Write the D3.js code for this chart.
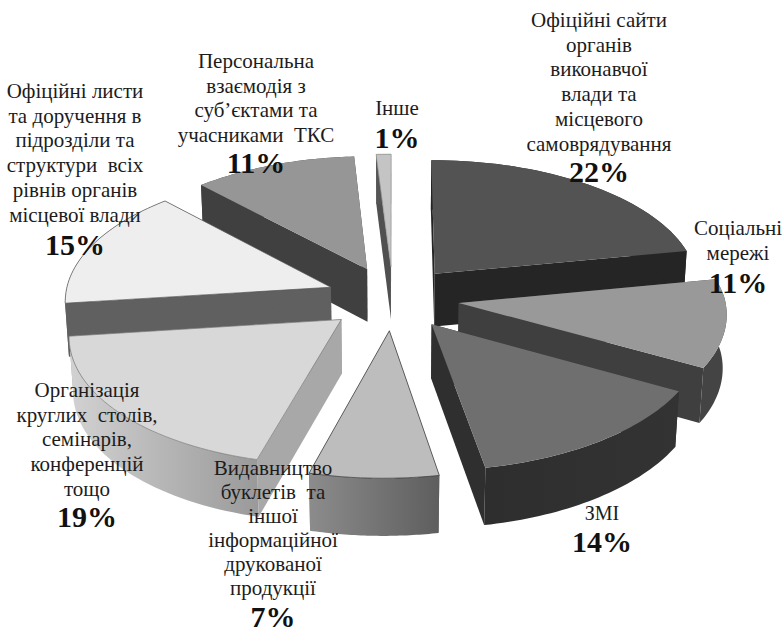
<!DOCTYPE html>
<html>
<head>
<meta charset="utf-8">
<script src="https://cdn.jsdelivr.net/npm/d3@7"></script>
<style>
    html, body { margin: 0; padding: 0; background: #fff; }
    text { font-family: "Liberation Serif", serif; fill: #1c1c1c; white-space: pre; }
</style>
</head>
<body>
<div id="chart"></div>
<script>
// chart data, clockwise from 12 o'clock
const values = [22, 11, 14, 7, 19, 15, 11, 1];
const categories = [
    ["Офіційні сайти", "органів", "виконавчої", "влади та", "місцевого", "самоврядування"],
    ["Соціальні", "мережі"],
    ["ЗМІ"],
    ["Видавництво", "буклетів  та", "іншої", "інформаційної", "друкованої", "продукції"],
    ["Організація", "круглих  столів,", "семінарів,", "конференцій", "тощо"],
    ["Офіційні листи", "та доручення в", "підрозділи та", "структури  всіх", "рівнів органів", "місцевої влади"],
    ["Персональна", "взаємодія з", "суб’єктами та", "учасниками  ТКС"],
    ["Інше"]
];

// label layout: centre x, first baseline y, baseline y of the percent, line height
const labelLayout = [
    [599, 27, 182, 24.7], [738, 235, 293, 24.7], [602, 520, 552, 24.7], [273, 475, 627, 24],
    [87, 397, 527, 24.7], [75, 98, 255, 24.7], [256, 68, 173, 24.7], [397, 115, 148, 24.7]
];

// colours: top face, radial faces, outer wall (gradient if 2 colours), top outline
const styles = [
    {top: "#535353", side: "#252525", wall: ["#252525"], line: "none"},
    {top: "#999999", side: "#3f3f3f", wall: ["#444444"], line: "none"},
    {top: "#6f6f6f", side: "#2f2f2f", wall: ["#2e2e2e", "#333333"], line: "none"},
    {top: "#bdbdbd", side: "#777777", wall: ["#8c8c8c", "#5e5e5e"], line: "#333"},
    {top: "#d8d8d8", side: "#a8a8a8", wall: ["#d2d2d2", "#9a9a9a"], line: "#777"},
    {top: "#eeeeee", side: "#606060", wall: ["#606060"], line: "#555"},
    {top: "#969696", side: "#404040", wall: ["#404040"], line: "none"},
    {top: "#c4c4c4", side: "#505050", wall: ["#555555"], line: "#999"}
];

// back to front
const drawOrder = [7, 0, 6, 1, 2, 5, 3, 4];

const width = 784, height = 634;
const cx = 393, cy = 298;          // pie centre on screen
const radiusX = 266, radiusY = 128, depth = 54;
const explode = 0.25;
const persp = 0.09, perspZ = 0.012;

// x,y in pie plane (radius = 1, y to the back), z = 0 top .. 1 bottom
function project(x, y, z) {
    let w = 1 + persp * y + perspZ * z;
    return [
        cx + radiusX * x / w + 6 * Math.min(y, 0),
        cy - radiusY * y / w + depth * z / w
    ];
}

let svg = d3.select("#chart")
    .append("svg")
    .attr("width", width)
    .attr("height", height);

let defs = svg.append("defs");
let line = d3.line();

let arcs = d3.pie().sort(null)(values);

function sliceGeometry(d) {
    let mid = (d.startAngle + d.endAngle) / 2;
    let ox = explode * Math.sin(mid), oy = explode * Math.cos(mid);
    let rim = d3.range(0, 41).map(function(k) {
        let a = d.startAngle + (d.endAngle - d.startAngle) * k / 40;
        return [ox + Math.sin(a), oy + Math.cos(a)];
    });
    return {ox: ox, oy: oy, rim: rim};
}

function at(p, z) { return project(p[0], p[1], z); }

drawOrder.forEach(function(i) {
    let g = sliceGeometry(arcs[i]);
    let st = styles[i];
    let apex = [g.ox, g.oy];
    let first = g.rim[0], last = g.rim[g.rim.length - 1];
    let slice = svg.append("g");

    // radial faces
    [first, last].forEach(function(p) {
        slice.append("path")
            .attr("d", line([at(apex, 0), at(p, 0), at(p, 1), at(apex, 1)]) + "Z")
            .attr("fill", st.side);
    });

    // outer wall
    let topRim = g.rim.map(function(p) { return at(p, 0); });
    let botRim = g.rim.map(function(p) { return at(p, 1); }).reverse();
    let wallFill = st.wall[0];
    if (st.wall.length > 1) {
        let xs = d3.extent(topRim, function(p) { return p[0]; });
        let grad = defs.append("linearGradient")
            .attr("id", "wall" + i)
            .attr("gradientUnits", "userSpaceOnUse")
            .attr("x1", xs[0]).attr("x2", xs[1])
            .attr("y1", 0).attr("y2", 0);
        grad.append("stop").attr("offset", 0).attr("stop-color", st.wall[0]);
        grad.append("stop").attr("offset", 1).attr("stop-color", st.wall[1]);
        wallFill = "url(#wall" + i + ")";
    }
    slice.append("path")
        .attr("d", line(topRim.concat(botRim)) + "Z")
        .attr("fill", wallFill);

    // top face
    slice.append("path")
        .attr("d", line([at(apex, 0)].concat(topRim)) + "Z")
        .attr("fill", st.top)
        .attr("stroke", st.line)
        .attr("stroke-width", 0.7);
});

// labels
categories.forEach(function(lines, i) {
    let pos = labelLayout[i];
    let label = svg.append("g").attr("text-anchor", "middle");
    lines.forEach(function(t, k) {
        label.append("text")
            .attr("x", pos[0])
            .attr("y", pos[1] + k * pos[3])
            .attr("font-size", i == 2 ? 20 : 21)
            .text(t);
    });
    label.append("text")
        .attr("x", pos[0])
        .attr("y", pos[2])
        .attr("font-size", 30)
        .attr("font-weight", "bold")
        .style("fill", "#111")
        .text(values[i] + "%");
});
</script>
</body>
</html>
